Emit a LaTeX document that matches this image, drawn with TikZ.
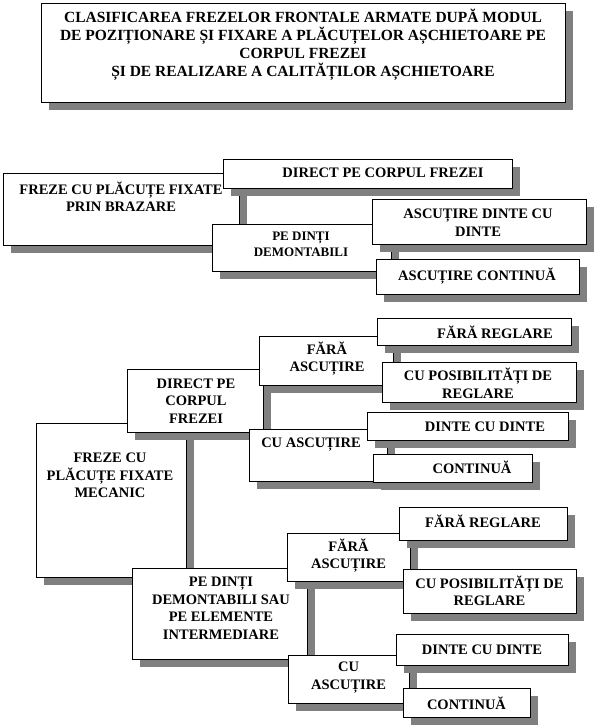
\documentclass[tikz,border=0pt]{standalone}
\usepackage{fontspec}
\setmainfont{Liberation Serif}
\usetikzlibrary{fit, shadows}
\definecolor{umbra}{HTML}{808080}

\begin{document}
\begin{tikzpicture}[x=1pt, y=-1pt, font=\bfseries\fontsize{14.5}{17.5}\selectfont,
        caseta/.style={draw=black, fill=white, line width=0.8pt, inner sep=0pt,
            drop shadow={shadow xshift=8pt, shadow yshift=-8pt, fill=umbra, opacity=1}},
        eticheta/.style={align=center, inner sep=0pt}]
    \useasboundingbox (0,0) rectangle (596,728);
    % titlul
    \node[caseta, fit={(41,3) (565,102)}] (titlu) {};
    \node[eticheta, font=\bfseries\fontsize{15.5}{18}\selectfont] (titlu-t) at (303,44.5)
        {CLASIFICAREA FREZELOR FRONTALE ARMATE DUPĂ MODUL\\DE POZIȚIONARE ȘI FIXARE A PLĂCUȚELOR AȘCHIETOARE PE\\CORPUL FREZEI\\ȘI DE REALIZARE A CALITĂȚILOR AȘCHIETOARE};
    % freze prin brazare
    \node[caseta, fit={(3,173) (239,245)}] (brazare) {};
    \node[eticheta] (brazare-t) at (121,196.5) {FREZE CU PLĂCUȚE FIXATE\\PRIN BRAZARE};
    \node[caseta, fit={(223,159) (512,188)}] (directBr) {};
    \node[eticheta] (directBr-t) at (383,173) {DIRECT PE CORPUL FREZEI};
    \node[caseta, fit={(212,224) (391,271)}] (dintiBr) {};
    \node[eticheta, font=\bfseries\fontsize{13}{15.5}\selectfont] (dintiBr-t) at (301,244.5) {PE DINȚI\\DEMONTABILI};
    \node[caseta, fit={(372,199) (586,244)}] (ascDinte) {};
    \node[eticheta] (ascDinte-t) at (478,222.5) {ASCUȚIRE DINTE CU\\DINTE};
    \node[caseta, fit={(376,259) (579,294)}] (ascCont) {};
    \node[eticheta] (ascCont-t) at (477,276) {ASCUȚIRE CONTINUĂ};
    % freze fixate mecanic
    \node[caseta, fit={(36,423) (186,577)}] (mecanic) {};
    \node[eticheta] (mecanic-t) at (110,475.5) {FREZE CU\\PLĂCUȚE FIXATE\\MECANIC};
    \node[caseta, fit={(127,369) (263,432)}] (directMec) {};
    \node[eticheta] (directMec-t) at (196,401) {DIRECT PE\\CORPUL\\FREZEI};
    \node[caseta, fit={(259,336) (393,385)}] (faraMec) {};
    \node[eticheta] (faraMec-t) at (327,358.5) {FĂRĂ\\ASCUȚIRE};
    \node[caseta, fit={(249,429) (387,481)}] (cuMec) {};
    \node[eticheta] (cuMec-t) at (311,445) {CU ASCUȚIRE};
    \node[caseta, fit={(377,318) (571,345)}] (faraRegMec) {};
    \node[eticheta] (faraRegMec-t) at (495,332) {FĂRĂ REGLARE};
    \node[caseta, fit={(382,362) (576,402)}] (posibMec) {};
    \node[eticheta] (posibMec-t) at (478,383.5) {CU POSIBILITĂȚI DE\\REGLARE};
    \node[caseta, fit={(367,412) (568,440)}] (dinteMec) {};
    \node[eticheta] (dinteMec-t) at (485,427) {DINTE CU DINTE};
    \node[caseta, fit={(373,454) (532,482)}] (contMec) {};
    \node[eticheta] (contMec-t) at (472,467) {CONTINUĂ};
    % pe dinti demontabili sau pe elemente intermediare
    \node[caseta, fit={(132,568) (307,659)}] (dintiLow) {};
    \node[eticheta] (dintiLow-t) at (221,608.5) {PE DINȚI\\DEMONTABILI SAU\\PE ELEMENTE\\INTERMEDIARE};
    \node[caseta, fit={(287,533) (410,581)}] (faraLow) {};
    \node[eticheta] (faraLow-t) at (348.5,555.5) {FĂRĂ\\ASCUȚIRE};
    \node[caseta, fit={(288,655) (409,703)}] (cuLow) {};
    \node[eticheta] (cuLow-t) at (348.5,677.5) {CU\\ASCUȚIRE};
    \node[caseta, fit={(399,507) (567,540)}] (faraRegLow) {};
    \node[eticheta] (faraRegLow-t) at (483,521) {FĂRĂ REGLARE};
    \node[caseta, fit={(403,569) (576,613)}] (posibLow) {};
    \node[eticheta] (posibLow-t) at (489.5,591) {CU POSIBILITĂȚI DE\\REGLARE};
    \node[caseta, fit={(396,634) (568,665)}] (dinteLow) {};
    \node[eticheta] (dinteLow-t) at (482,650) {DINTE CU DINTE};
    \node[caseta, fit={(403,688) (530,717)}] (contLow) {};
    \node[eticheta] (contLow-t) at (466.5,703) {CONTINUĂ};
\end{tikzpicture}
\end{document}
